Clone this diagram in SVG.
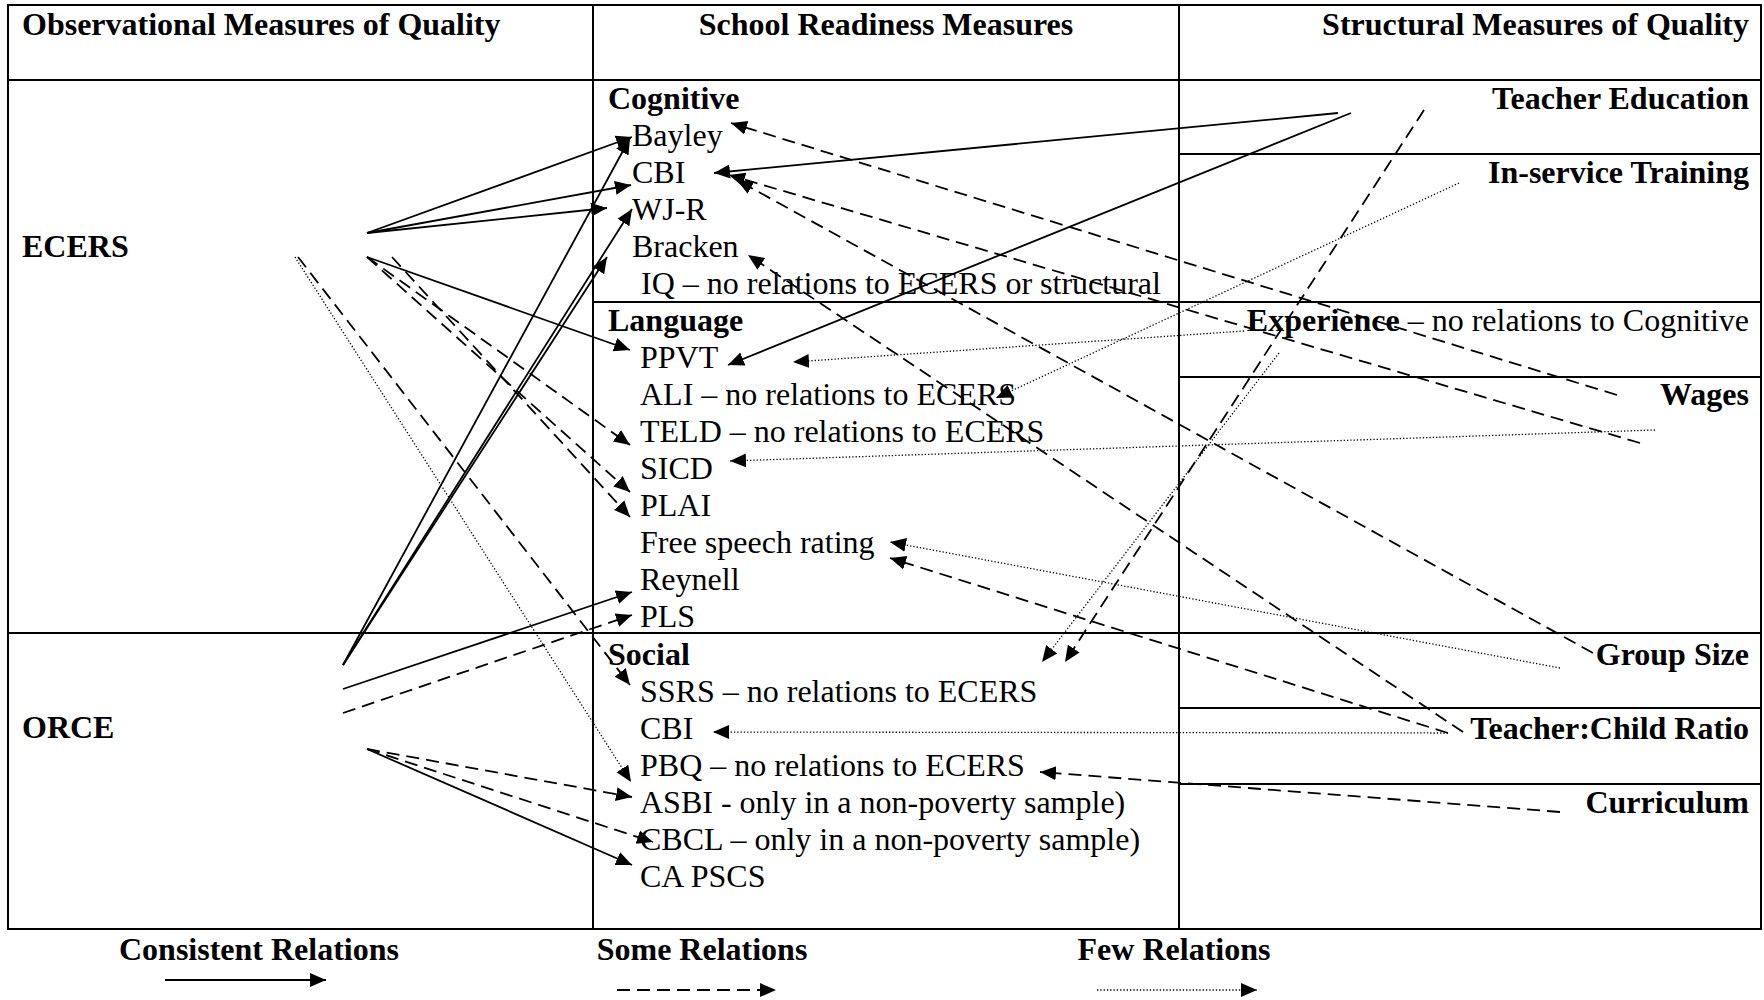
<svg xmlns="http://www.w3.org/2000/svg" width="1764" height="1000" viewBox="0 0 1764 1000">
<style>
text{font-family:"Liberation Serif","Times New Roman",serif;font-size:32px;fill:#000}
.b{font-weight:bold}
.e{text-anchor:end}
.m{text-anchor:middle}
.grid{stroke:#000;stroke-width:2;fill:none}
.s{stroke:#000;stroke-width:1.8;fill:none;marker-end:url(#ah)}
.d{stroke:#000;stroke-width:1.8;fill:none;stroke-dasharray:13 7;marker-end:url(#ah)}
.p{stroke:#000;stroke-width:1.3;fill:none;stroke-dasharray:1.3 2;marker-end:url(#ah)}
</style>
<defs>
<marker id="ah" markerUnits="userSpaceOnUse" markerWidth="16" markerHeight="16" refX="16" refY="8" orient="auto" viewBox="0 0 16 16">
<path d="M0,1 L16,8 L0,15 z" fill="#000"/>
</marker>
</defs>
<rect width="1764" height="1000" fill="#fff"/>
<g id="table" class="grid">
<rect x="8" y="5" width="1753" height="924"/>
<line x1="8" y1="80" x2="1761" y2="80"/>
<line x1="593" y1="5" x2="593" y2="929"/>
<line x1="1179" y1="5" x2="1179" y2="929"/>
<line x1="8" y1="633" x2="1761" y2="633"/>
<line x1="593" y1="302" x2="1761" y2="302"/>
<line x1="1179" y1="154" x2="1761" y2="154"/>
<line x1="1179" y1="377" x2="1761" y2="377"/>
<line x1="1179" y1="708" x2="1761" y2="708"/>
<line x1="1179" y1="784" x2="1761" y2="784"/>
</g>
<g id="headers">
<text class="b" x="22" y="35">Observational Measures of Quality</text>
<text class="b m" x="886" y="35">School Readiness Measures</text>
<text class="b e" x="1749" y="35">Structural Measures of Quality</text>
</g>
<g id="ecers"><text class="b" x="22" y="257">ECERS</text></g>
<g id="orce"><text class="b" x="22" y="738">ORCE</text></g>
<g id="cognitive">
<text class="b" x="608" y="109">Cognitive</text>
<text id="bayley" x="632" y="146">Bayley</text>
<text id="cbi-cog" x="632" y="183">CBI</text>
<text id="wjr" x="632" y="220">WJ-R</text>
<text id="bracken" x="632" y="257">Bracken</text>
<text id="iq" x="641" y="294">IQ – no relations to ECERS or structural</text>
</g>
<g id="language">
<text class="b" x="608" y="331">Language</text>
<text id="ppvt" x="640" y="368">PPVT</text>
<text id="ali" x="640" y="405">ALI – no relations to ECERS</text>
<text id="teld" x="640" y="442">TELD – no relations to ECERS</text>
<text id="sicd" x="640" y="479">SICD</text>
<text id="plai" x="640" y="516">PLAI</text>
<text id="free" x="640" y="553">Free speech rating</text>
<text id="reynell" x="640" y="590">Reynell</text>
<text id="pls" x="640" y="627">PLS</text>
</g>
<g id="social">
<text class="b" x="608" y="665">Social</text>
<text id="ssrs" x="640" y="702">SSRS – no relations to ECERS</text>
<text id="cbi-soc" x="640" y="739">CBI</text>
<text id="pbq" x="640" y="776">PBQ – no relations to ECERS</text>
<text id="asbi" x="640" y="813">ASBI - only in a non-poverty sample)</text>
<text id="cbcl" x="640" y="850">CBCL – only in a non-poverty sample)</text>
<text id="capscs" x="640" y="887">CA PSCS</text>
</g>
<g id="teacher-education"><text class="b e" x="1749" y="109">Teacher Education</text></g>
<g id="inservice"><text class="b e" x="1749" y="183">In-service Training</text></g>
<g id="experience"><text class="e" x="1749" y="331"><tspan class="b">Experience</tspan> – no relations to Cognitive</text></g>
<g id="wages"><text class="b e" x="1749" y="405">Wages</text></g>
<g id="group-size"><text class="b e" x="1749" y="665">Group Size</text></g>
<g id="ratio"><text class="b e" x="1749" y="739">Teacher:Child Ratio</text></g>
<g id="curriculum"><text class="b e" x="1749" y="813">Curriculum</text></g>
<g id="connectors">
<path class="s" d="M367,233 L632,137"/>
<path class="s" d="M367,233 L631,185"/>
<path class="s" d="M367,233 L607,208"/>
<path class="s" d="M367,257 L630,350"/>
<path class="s" d="M343,665 L630,138"/>
<path class="s" d="M343,665 L632,209"/>
<path class="s" d="M343,665 L607,257"/>
<path class="s" d="M343,689 L632,592"/>
<path class="s" d="M367,749 L632,865"/>
<path class="s" d="M1338,113 L714,173"/>
<path class="s" d="M1351,113 L728,365"/>
<path class="d" d="M367,257 L630,445"/>
<path class="d" d="M367,257 L630,492"/>
<path class="d" d="M392,257 L630,517"/>
<path class="d" d="M298,257 L630,685"/>
<path class="d" d="M343,713 L632,615"/>
<path class="d" d="M367,749 L632,797"/>
<path class="d" d="M367,749 L653,842"/>
<path class="d" d="M1617,395 L731,123"/>
<path class="d" d="M1640,443 L729,175"/>
<path class="d" d="M1593,653 L737,180"/>
<path class="d" d="M1463,732 L748,255"/>
<path class="d" d="M1448,733 L890,558"/>
<path class="d" d="M1560,812 L1040,772"/>
<path class="d" d="M1424,110 L1065,662"/>
<path class="p" d="M295,257 L631,782"/>
<path class="p" d="M1244,331 L793,362"/>
<path class="p" d="M1459,183 L996,398"/>
<path class="p" d="M1655,430 L730,461"/>
<path class="p" d="M1560,668 L890,542"/>
<path class="p" d="M1448,733 L713,732"/>
<path class="p" d="M1279,353 L1042,662"/>
</g>
<g id="legend">
<text class="b m" x="259" y="960">Consistent Relations</text>
<text class="b m" x="702" y="960">Some Relations</text>
<text class="b m" x="1174" y="960">Few Relations</text>
<path class="s" d="M165,980 L326,980"/>
<path class="d" d="M617,990 L776,990"/>
<path class="p" d="M1097,990 L1257,990"/>
</g>
</svg>
